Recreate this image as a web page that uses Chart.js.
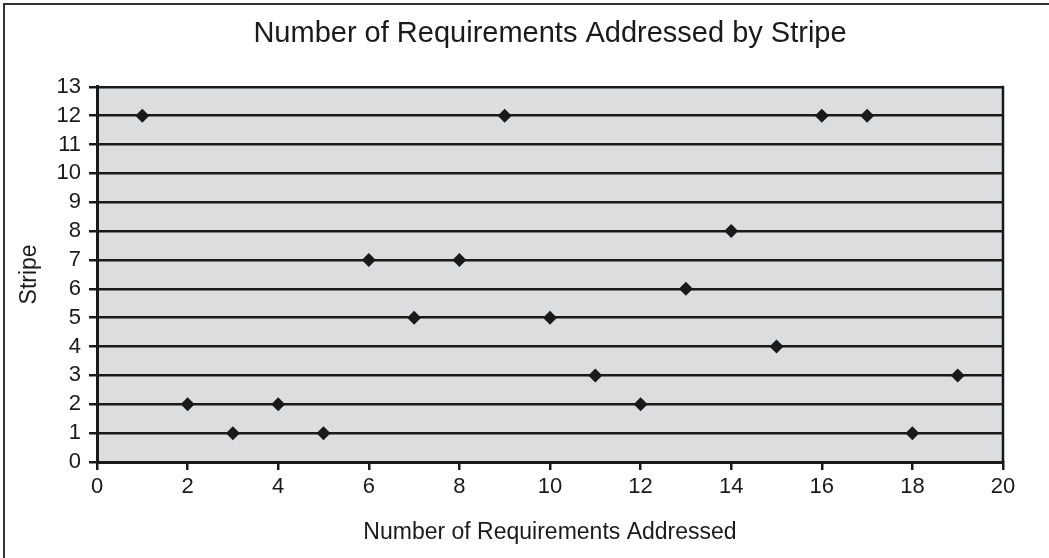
<!DOCTYPE html>
<html>
<head>
<meta charset="utf-8">
<script src="https://cdn.jsdelivr.net/npm/chart.js@4.4.1/dist/chart.umd.min.js"></script>
<style>
  html, body { margin: 0; padding: 0; background: #fff; }
  #wrap { position: relative; width: 1049px; height: 558px; overflow: hidden; }
  #frame { position: absolute; left: 3px; top: 3px; width: 1060px; height: 600px; border: 2px solid #333; box-sizing: border-box; pointer-events: none; }
  canvas { position: absolute; left: 0; top: 0; }
</style>
</head>
<body>
<div id="wrap">
  <canvas id="chart" width="1049" height="558"></canvas>
  <div id="frame"></div>
</div>
<script>
// requirement number (x) and the stripe it falls in (y)
const requisits = [1, 9, 16, 17, 14, 6, 8, 13, 7, 10, 15, 11, 19, 2, 4, 12, 3, 5, 18];
const franges   = [12, 12, 12, 12, 8, 7, 7, 6, 5, 5, 4, 3, 3, 2, 2, 2, 1, 1, 1];

const TITOL = 'Number of Requirements Addressed by Stripe';
const TITOL_X = 'Number of Requirements Addressed';
const TITOL_Y = 'Stripe';

const FONT = "'Liberation Sans', Arial, Helvetica, sans-serif";
const INK = '#1a1a1a';

// gray plot background, right frame line, and the title centred over the plot
const fonsPlot = {
  id: 'fonsPlot',
  afterLayout(chart) {
    const a = chart.chartArea;
    if (chart.titleBlock) {
      chart.titleBlock.left = a.left;
      chart.titleBlock.right = a.right;
    }
  },
  beforeDraw(chart) {
    const { ctx, chartArea: a } = chart;
    ctx.save();
    ctx.fillStyle = '#dcddde';
    ctx.fillRect(a.left, a.top, a.right - a.left, a.bottom - a.top);
    ctx.restore();
  },
  afterDatasetsDraw(chart) {
    const { ctx, chartArea: a } = chart;
    ctx.save();
    ctx.strokeStyle = INK;
    ctx.lineWidth = 2.5;
    ctx.beginPath();
    ctx.moveTo(a.right, a.top - 1);
    ctx.lineTo(a.right, a.bottom);
    ctx.stroke();
    ctx.restore();
  }
};

const punts = requisits.map((x, i) => ({ x, y: franges[i] }));

new Chart(document.getElementById('chart').getContext('2d'), {
  type: 'scatter',
  data: {
    datasets: [{
      data: punts,
      pointStyle: 'rectRot',
      pointRadius: 7,
      pointBackgroundColor: INK,
      pointBorderColor: INK,
      pointBorderWidth: 0
    }]
  },
  plugins: [fonsPlot],
  options: {
    responsive: false,
    animation: false,
    layout: { padding: { left: 0, top: 0, right: 46, bottom: 0 } },
    plugins: {
      legend: { display: false },
      tooltip: { enabled: false },
      title: {
        display: true,
        text: TITOL,
        color: INK,
        font: { family: FONT, size: 29, weight: 'normal' },
        padding: { top: 17, bottom: 35 }
      }
    },
    scales: {
      x: {
        type: 'linear',
        min: 0,
        max: 20,
        afterFit: (s) => { s.height = 96; },
        ticks: { stepSize: 2, autoSkip: false, color: INK, padding: 4, font: { family: FONT, size: 22 }, maxRotation: 0 },
        grid: { drawOnChartArea: false, drawTicks: true, tickLength: 8, color: INK, lineWidth: 2.5 },
        border: { color: INK, width: 3 },
        title: {
          display: true,
          text: TITOL_X,
          color: INK,
          font: { family: FONT, size: 23 },
          padding: { top: 0, bottom: 12 }
        }
      },
      y: {
        type: 'linear',
        min: 0,
        max: 13,
        afterFit: (s) => { s.width = 97; },
        ticks: { stepSize: 1, autoSkip: false, color: INK, padding: 8, font: { family: FONT, size: 22 } },
        grid: { color: INK, lineWidth: 2.5, tickLength: 8 },
        border: { color: INK, width: 3 },
        title: {
          display: true,
          text: TITOL_Y,
          color: INK,
          font: { family: FONT, size: 23 },
          padding: { top: 16, bottom: 0 }
        }
      }
    }
  }
});
</script>
</body>
</html>
